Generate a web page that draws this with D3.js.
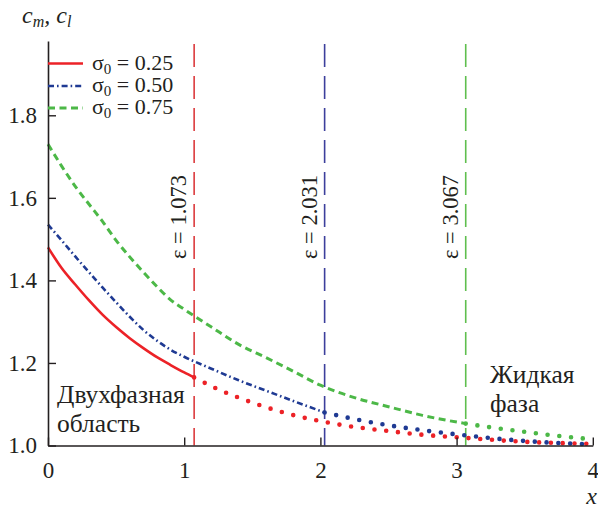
<!DOCTYPE html>
<html>
<head>
<meta charset="utf-8">
<script src="https://cdn.jsdelivr.net/npm/d3@7"></script>
<style>
  html, body { margin: 0; padding: 0; background: #fff; }
</style>
</head>
<body>
<div id="chart"></div>
<script>
const WIDTH = 598;
const HEIGHT = 508;
const FONT = "'Liberation Serif', 'DejaVu Serif', 'Times New Roman', serif";

const xTicks = [0, 1, 2, 3, 4];
const yTicks = [1.0, 1.2, 1.4, 1.6, 1.8];
const sigmaLabels = ["0.25", "0.50", "0.75"];
const epsValues = [1.073, 2.031, 3.067];

const redX = [0, 0.1, 0.2, 0.3, 0.4, 0.5, 0.6, 0.7, 0.8, 0.9, 1.0, 1.073, 1.25, 1.5, 1.75, 2.0, 2.25, 2.5, 2.75, 3.0, 3.25, 3.5, 3.75, 4.0];
const redY = [1.48, 1.43, 1.39, 1.352, 1.317, 1.287, 1.260, 1.236, 1.214, 1.195, 1.177, 1.165, 1.136, 1.104, 1.078, 1.059, 1.045, 1.035, 1.026, 1.020, 1.014, 1.009, 1.006, 1.004];

const blueX = [0, 0.1, 0.2, 0.3, 0.4, 0.5, 0.6, 0.7, 0.8, 0.9, 1.0, 1.2, 1.4, 1.6, 1.8, 2.031, 2.25, 2.5, 2.75, 3.0, 3.25, 3.5, 3.75, 4.0];
const blueY = [1.535, 1.497, 1.458, 1.420, 1.383, 1.347, 1.312, 1.280, 1.254, 1.232, 1.215, 1.186, 1.158, 1.133, 1.108, 1.080, 1.064, 1.049, 1.037, 1.027, 1.018, 1.011, 1.006, 1.003];

const greenX = [0, 0.1, 0.2, 0.3, 0.4, 0.5, 0.6, 0.7, 0.8, 0.9, 1.0, 1.2, 1.4, 1.6, 1.8, 2.0, 2.25, 2.5, 2.75, 3.067, 3.25, 3.5, 3.75, 4.0];
const greenY = [1.730, 1.677, 1.628, 1.585, 1.543, 1.497, 1.457, 1.420, 1.385, 1.353, 1.330, 1.287, 1.245, 1.213, 1.180, 1.146, 1.116, 1.094, 1.073, 1.053, 1.044, 1.033, 1.023, 1.015];

const series = [
  { x: redX, y: redY, color: "#ec2227", vcolor: "#dc3b3e", dash: null, width: 2.6 },
  { x: blueX, y: blueY, color: "#1f3a93", vcolor: "#3c3f9c", dash: "6 3 1.6 3", width: 2.6 },
  { x: greenX, y: greenY, color: "#4cb847", vcolor: "#5fbf4e", dash: "7 4.5", width: 3 }
];

const margin = { top: 41, right: 5, bottom: 62.5, left: 48 };

const svg = d3.select("#chart").append("svg")
  .attr("width", WIDTH)
  .attr("height", HEIGHT)
  .style("font-family", FONT);

const x = d3.scaleLinear().domain([0, 4]).range([margin.left, 592.8]);
const y = d3.scaleLinear().domain([1.0, 1.98]).range([HEIGHT - margin.bottom, margin.top]);

const line = d3.line()
  .x(d => x(d[0]))
  .y(d => y(d[1]))
  .curve(d3.curveMonotoneX);

function label(sel, size) {
  return sel.style("font-family", FONT).style("font-size", size + "px").attr("fill", "#231f20");
}

// vertical eps lines + rotated labels
epsValues.forEach((e, i) => {
  svg.append("line")
    .attr("x1", x(e)).attr("x2", x(e))
    .attr("y1", 44).attr("y2", y(1.0))
    .attr("stroke", series[i].vcolor)
    .attr("stroke-width", 1.6)
    .attr("stroke-dasharray", "23 9");

  label(svg.append("text"), 22.5)
    .attr("transform", `translate(${x(e) - 8},217) rotate(-90)`)
    .attr("text-anchor", "middle")
    .text(`ε = ${e.toFixed(3)}`);
});

// curves: styled part up to eps, dotted beyond
series.forEach((s, i) => {
  const pts = s.x.map((v, k) => [v, s.y[k]]);
  const e = epsValues[i];
  const before = pts.filter(d => d[0] <= e + 1e-9);
  const after = pts.filter(d => d[0] >= e - 1e-9);

  svg.append("path")
    .attr("d", line(before))
    .attr("fill", "none")
    .attr("stroke", s.color)
    .attr("stroke-width", s.width)
    .attr("stroke-dasharray", s.dash);

  svg.append("path")
    .attr("d", line(after))
    .attr("fill", "none")
    .attr("stroke", s.color)
    .attr("stroke-width", 4.6)
    .attr("stroke-linecap", "round")
    .attr("stroke-dasharray", "0 11.8");
});

// axes
const xAxis = svg.append("g")
  .attr("transform", `translate(0,${y(1.0)})`)
  .call(d3.axisBottom(x).tickValues(xTicks).tickFormat(d3.format("d"))
    .tickSizeInner(-8).tickSizeOuter(0).tickPadding(16));

const yAxis = svg.append("g")
  .attr("transform", `translate(${margin.left},0)`)
  .call(d3.axisLeft(y).tickValues(yTicks).tickFormat(d3.format(".1f"))
    .tickSizeInner(-8).tickSizeOuter(0).tickPadding(11));

[xAxis, yAxis].forEach(a => {
  a.attr("font-family", null).attr("font-size", null);
  a.select(".domain").attr("stroke", "#231f20").attr("stroke-width", 1.6);
  a.selectAll(".tick line").attr("stroke", "#231f20").attr("stroke-width", 1.4);
  label(a.selectAll(".tick text"), 23);
});

// axis titles
const yTitle = label(svg.append("text"), 24)
  .attr("x", 22).attr("y", 23)
  .style("font-style", "italic");
yTitle.append("tspan").text("c");
yTitle.append("tspan").attr("dy", 4).style("font-size", "16px").text("m");
yTitle.append("tspan").attr("dy", -4).text(", c");
yTitle.append("tspan").attr("dy", 4).style("font-size", "16px").text("l");

label(svg.append("text"), 24)
  .attr("x", 597).attr("y", 504)
  .attr("text-anchor", "end")
  .style("font-style", "italic")
  .text("x");

// legend
const legendY = [63.5, 86, 108];
series.forEach((s, i) => {
  svg.append("line")
    .attr("x1", margin.left).attr("x2", 83)
    .attr("y1", legendY[i]).attr("y2", legendY[i])
    .attr("stroke", s.color)
    .attr("stroke-width", s.width)
    .attr("stroke-dasharray", s.dash);

  const t = label(svg.append("text"), 22)
    .attr("x", 92).attr("y", legendY[i] + 6);
  t.append("tspan").text("σ");
  t.append("tspan").attr("dy", 4).style("font-size", "15px").text("0");
  t.append("tspan").attr("dy", -4).text(` = ${sigmaLabels[i]}`);
});

// region labels
const regionLabels = [
  { lines: ["Двухфазная", "область"], x: 57, y: 403 },
  { lines: ["Жидкая", "фаза"], x: 490, y: 383 }
];
regionLabels.forEach(r => {
  r.lines.forEach((txt, k) => {
    label(svg.append("text"), 25.5)
      .attr("x", r.x).attr("y", r.y + k * 28.5)
      .text(txt);
  });
});
</script>
</body>
</html>
